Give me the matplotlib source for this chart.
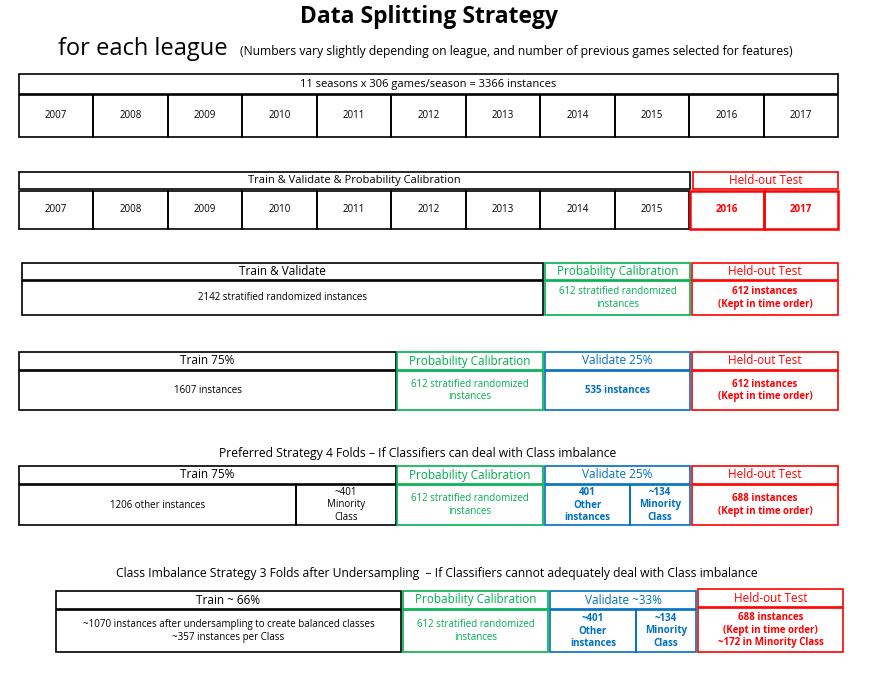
import matplotlib.pyplot as plt
from matplotlib.patches import Rectangle

plt.rcParams['font.family'] = ['Open Sans', 'DejaVu Sans']

years = ['2007', '2008', '2009', '2010', '2011', '2012', '2013', '2014', '2015', '2016', '2017']
held_years = ['2016', '2017']
title = 'Data Splitting Strategy'
subtitle = 'for each league'
note = '(Numbers vary slightly depending on league, and number of previous games selected for features)'
row1_head = '11 seasons x 306 games/season = 3366 instances'
row2_head = 'Train & Validate & Probability Calibration'
held = 'Held-out Test'
held_body = '612 instances\n(Kept in time order)'
prob = 'Probability Calibration'
prob_body = '612 stratified randomized\ninstances'
row3_train = ['Train & Validate', '2142 stratified randomized instances']
row4_train = ['Train 75%', '1607 instances']
row4_val = ['Validate 25%', '535 instances']
row5_title = 'Preferred Strategy 4 Folds \u2013 If Classifiers can deal with Class imbalance'
row5_train = ['Train 75%', '1206 other instances', '~401\nMinority\nClass']
row5_val = ['Validate 25%', '401\nOther\ninstances', '~134\nMinority\nClass']
row5_held = '688 instances\n(Kept in time order)'
row6_title = 'Class Imbalance Strategy 3 Folds after Undersampling  \u2013 If Classifiers cannot adequately deal with Class imbalance'
row6_train = ['Train ~ 66%', '~1070 instances after undersampling to create balanced classes\n~357 instances per Class']
row6_val = ['Validate ~33%', '~401\nOther\ninstances', '~134\nMinority\nClass']
row6_held = '688 instances\n(Kept in time order)\n~172 in Minority Class'

GREEN = '#00b050'
BLUE = '#0070c0'
RED = '#ff0000'

fig = plt.figure(figsize=(8.82, 6.73), dpi=100)
ax = fig.add_axes([0, 0, 1, 1])
ax.set_xlim(0, 882)
ax.set_ylim(673, 0)
ax.axis('off')


def box(x0, x1, y0, y1, text='', color='black', size=7, bold=False, lw=1.2):
    ax.add_patch(Rectangle((x0, y0), x1 - x0, y1 - y0, fill=False, edgecolor=color, lw=lw))
    if text:
        ax.text((x0 + x1) / 2, (y0 + y1) / 2, text, ha='center', va='center', color=color,
                fontsize=size, fontweight='bold' if bold else 'normal', linespacing=1.2)


ax.text(429, 17, title, ha='center', va='center', fontsize=16.5, fontweight='bold')
ax.text(58, 49, subtitle, ha='left', va='center', fontsize=17)
ax.text(240, 52, note, ha='left', va='center', fontsize=8.7)

# row 1
box(19, 838, 74, 94, row1_head, size=8)
w = (838 - 19) / len(years)
for i, y in enumerate(years):
    box(19 + i * w, 19 + (i + 1) * w, 95, 137, y)

# row 2
box(19, 690, 172, 189, row2_head, size=8)
box(693, 838, 172, 189, held, RED, size=8.5)
for i, y in enumerate(years):
    if y in held_years:
        x0 = 690 + (i - 9) * 74
        box(x0, x0 + 74, 191, 229, y, RED, bold=True, lw=1.8)
    else:
        box(19 + i * w, 19 + (i + 1) * w, 191, 229, y)

# row 3
box(22, 543, 263, 280, row3_train[0], size=8.5)
box(22, 543, 281, 315, row3_train[1])
box(545, 690, 263, 280, prob, GREEN, size=8.5)
box(545, 690, 281, 315, prob_body, GREEN)
box(692, 838, 263, 280, held, RED, size=8.5)
box(692, 838, 281, 315, held_body, RED, bold=True)

# row 4
box(19, 396, 352, 370, row4_train[0], size=8.5)
box(19, 396, 371, 410, row4_train[1])
box(397, 543, 352, 370, prob, GREEN, size=8.5)
box(397, 543, 371, 410, prob_body, GREEN)
box(545, 690, 352, 370, row4_val[0], BLUE, size=8.5)
box(545, 690, 371, 410, row4_val[1], BLUE, bold=True)
box(692, 838, 352, 370, held, RED, size=8.5)
box(692, 838, 371, 410, held_body, RED, bold=True)

# row 5
ax.text(418, 453, row5_title, ha='center', va='center', fontsize=8.7)
box(19, 396, 466, 484, row5_train[0], size=8.5)
box(19, 296, 485, 525, row5_train[1])
box(296, 396, 485, 525, row5_train[2])
box(397, 543, 466, 484, prob, GREEN, size=8.5)
box(397, 543, 485, 525, prob_body, GREEN)
box(545, 690, 466, 484, row5_val[0], BLUE, size=8.5)
box(545, 630, 485, 525, row5_val[1], BLUE, bold=True)
box(630, 690, 485, 525, row5_val[2], BLUE, bold=True)
box(692, 838, 466, 484, held, RED, size=8.5)
box(692, 838, 485, 525, row5_held, RED, bold=True)

# row 6
ax.text(437, 573, row6_title, ha='center', va='center', fontsize=8.7)
box(56, 401, 591, 609, row6_train[0], size=8.5)
box(56, 401, 610, 652, row6_train[1])
box(403, 548, 591, 609, prob, GREEN, size=8.5)
box(403, 548, 610, 652, prob_body, GREEN)
box(550, 696, 591, 609, row6_val[0], BLUE, size=8.5)
box(550, 636, 610, 652, row6_val[1], BLUE, bold=True)
box(636, 696, 610, 652, row6_val[2], BLUE, bold=True)
box(698, 843, 589, 607, held, RED, size=8.5)
box(698, 843, 608, 652, row6_held, RED, bold=True)

fig.savefig('out.png', dpi=100)
